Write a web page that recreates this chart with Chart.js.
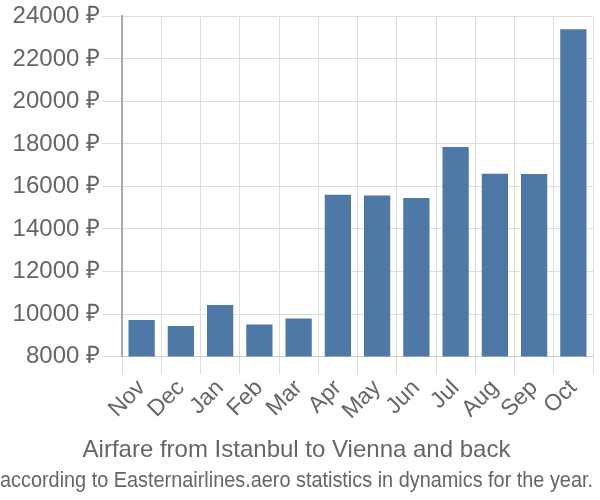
<!DOCTYPE html>
<html>
<head>
<meta charset="utf-8">
<script src="https://cdn.jsdelivr.net/npm/chart.js@4"></script>
<style>
  body { margin: 0; background: #fff; }
  #caja { width: 600px; height: 500px; }
</style>
</head>
<body>
<div id="caja"><canvas id="graficoPrecios"></canvas></div>
<script>
const meses = ['Nov', 'Dec', 'Jan', 'Feb', 'Mar', 'Apr', 'May', 'Jun', 'Jul', 'Aug', 'Sep', 'Oct'];
const precios = [9770, 9490, 10470, 9550, 9840, 15660, 15620, 15510, 17900, 16650, 16630, 23440];
const tituloGrafico = 'Airfare from Istanbul to Vienna and back';
const subtituloGrafico = 'according to Easternairlines.aero statistics in dynamics for the year.';

const colorTexto = '#666';
const fuente = 'Liberation Sans, Arial, sans-serif';

let elementoDOM = document.getElementById('graficoPrecios').getContext('2d');
let grafico = new Chart(elementoDOM, {
    type: 'bar',
    data: {
        labels: meses,
        datasets: [{
            label: 'Precio',
            data: precios,
            backgroundColor: '#4e79a7',
            borderColor: 'rgba(255,255,255,0.6)',
            borderWidth: 1,
        }]
    },
    options: {
        responsive: true,
        maintainAspectRatio: false,
        animation: false,
        layout: { padding: { top: 3, right: 7, left: 0, bottom: 0 } },
        plugins: {
            legend: false,
            tooltip: { enabled: false },
            // el subtitulo de Chart.js queda mas cerca del grafico, por eso van cambiados
            subtitle: {
                display: true,
                position: 'bottom',
                text: tituloGrafico,
                color: colorTexto,
                font: { family: fuente, size: 24, weight: 'normal' },
                padding: { top: 11, bottom: 2 },
            },
            title: {
                display: true,
                position: 'bottom',
                text: subtituloGrafico,
                color: colorTexto,
                font: { family: fuente, size: 22, weight: 'normal' },
                padding: { top: 1, bottom: 6 },
            },
        },
        scales: {
            x: {
                grid: { color: '#ddd', tickLength: 18 },
                border: { color: '#ccc' },
                ticks: {
                    color: colorTexto,
                    font: { family: fuente, size: 23 },
                    minRotation: 45,
                    maxRotation: 45,
                    autoSkip: false,
                    padding: 0,
                },
            },
            y: {
                min: 8000,
                max: 24000,
                // ancho fijo del eje para que el area del grafico empiece donde en la imagen
                afterFit: eje => { eje.width = 122; },
                grid: { color: '#ddd', tickLength: 20 },
                border: { color: '#aaa', width: 2 },
                ticks: {
                    stepSize: 2000,
                    color: colorTexto,
                    font: { family: fuente, size: 24 },
                    padding: 2,
                    callback: v => v + ' ₽',
                },
            },
        },
    }
});
</script>
</body>
</html>
